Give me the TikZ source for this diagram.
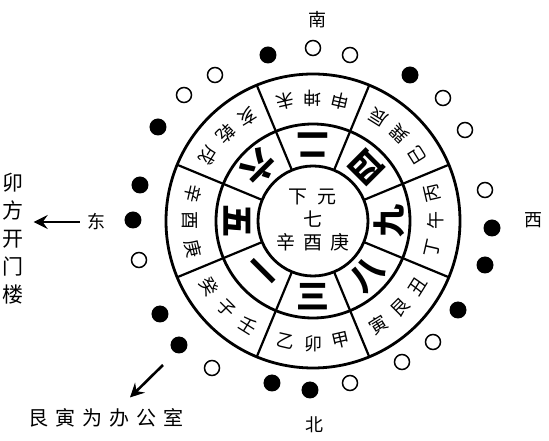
\documentclass[tikz,border=0pt]{standalone}
\usepackage{fontspec}
\newfontfamily\cjk{Noto Sans CJK SC}
\usetikzlibrary{arrows.meta}

\begin{document}
\begin{tikzpicture}[x=1pt, y=1pt,
  ring/.style={line width=2.8pt},
  spoke/.style={line width=2.2pt},
  mtn/.style={font=\cjk\fontsize{18}{18}\selectfont, inner sep=0pt},
  star/.style={font=\cjk\bfseries\fontsize{33}{33}\selectfont, inner sep=0pt},
  hub/.style={font=\cjk\fontsize{19}{23}\selectfont, align=center, inner sep=0pt},
  dir/.style={font=\cjk\fontsize{18}{28}\selectfont, inner sep=0pt},
  full/.style={circle, fill=black, minimum size=17pt, inner sep=0pt},
  hole/.style={circle, draw, line width=1.5pt, minimum size=15pt, inner sep=0pt},
  arr/.style={-{Stealth[length=14pt,width=14pt,inset=5pt]}, line width=2.6pt}]

  \useasboundingbox (-313,-220) rectangle (236,221);

  % rings and spokes
  \draw[ring] (0,0) circle (55pt) (0,0) circle (97pt) (0,0) circle (147pt);
  \foreach \a in {22.5,67.5,...,337.5}
    \draw[spoke] (\a:55) -- (\a:147);

  % centre
  \node[hub] (hub) at (0,1) {下\hspace{10pt}元\\七\\辛\hspace{8pt}酉\hspace{8pt}庚};

  % nine stars, one per palace
  \foreach \a/\n in {270/三, 315/八, 0/九, 45/四, 90/二, 135/六, 180/五, 225/一}
    \node[star, rotate=\a+90] (s\a) at (\a:76) {\n};

  % twenty-four mountains, read counter-clockwise
  \foreach \a/\p/\q/\r in {270/乙/卯/甲, 315/寅/艮/丑, 0/丁/午/丙, 45/巳/巽/辰,
                           90/申/坤/未, 135/亥/乾/戌, 180/辛/酉/庚, 225/癸/子/壬}{
    \node[mtn, rotate=\a+77]  (m\a a) at (\a-13:123) {\p};
    \node[mtn, rotate=\a+90]  (m\a b) at (\a:123)    {\q};
    \node[mtn, rotate=\a+103] (m\a c) at (\a+13:123) {\r};
  }

  % dots outside the rings
  \foreach \x/\y/\k [count=\i] in {-45/166/full, 0/173/hole, 37/166/hole, 97/146/full,
      130/123/hole, 152/91/hole, 172/31/hole, 179/-7/full, 172/-44/full, 145/-89/full,
      120/-121/hole, 89/-141/hole, 37/-162/hole, -3/-169/full, -41/-162/full,
      -101/-147/hole, -134/-124/full, -153/-93/full, -174/-39/hole, -180/1/full,
      -173/36/full, -155/94/full, -129/126/hole, -98/146/hole}
    \node[\k] (d\i) at (\x,\y) {};

  % directions
  \node[dir] (nan)  at (5,201)   {南};
  \node[dir] (xi)   at (220,1)   {西};
  \node[dir] (bei)  at (2,-204)  {北};
  \node[dir] (dong) at (-216,-1) {东};
  \node[dir, align=center, font=\cjk\fontsize{21}{28}\selectfont] (door) at (-300,-18) {卯\\方\\开\\门\\楼};
  \node[dir, font=\cjk\fontsize{20}{20}\selectfont] (office) at (-207,-197)
    {艮\hspace{7pt}寅\hspace{7pt}为\hspace{7pt}办\hspace{7pt}公\hspace{7pt}室};
  \coordinate (tail) at (-150,-144);

  \draw[arr, shorten <=8pt, shorten >=10pt] (dong.west) -- (dong.west -| door.east);
  \draw[arr] (tail) -- ([shift={(24,11)}]office.north);
\end{tikzpicture}
\end{document}
